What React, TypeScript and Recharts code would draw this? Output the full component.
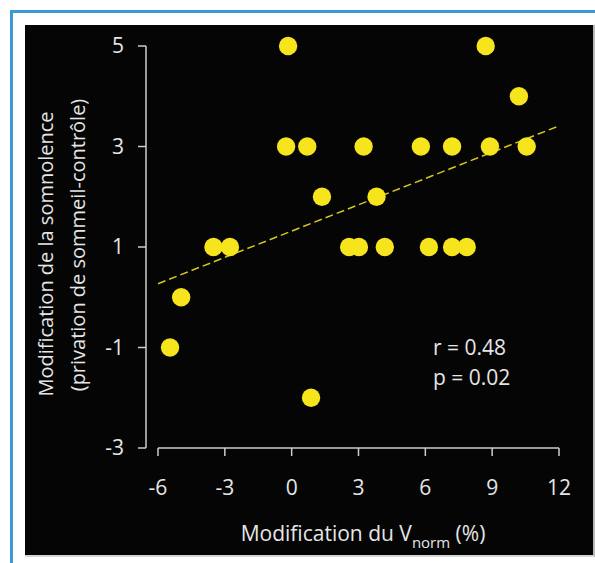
import { ScatterChart, Scatter, XAxis, YAxis, ReferenceLine, Customized } from "recharts";

// Sleepiness change vs Vnorm change, with regression line.

const xValues = [-5.46, -4.96, -3.51, -2.77, -0.16, -0.25, 0.7, 0.87, 1.36, 2.58, 3.02, 3.23, 3.81, 4.18, 5.8, 6.16, 7.2, 7.2, 7.86, 8.71, 8.9, 10.2, 10.55];
const yValues = [-1, 0, 1, 1, 5, 3, 3, -2, 2, 1, 1, 3, 2, 1, 3, 1, 3, 1, 1, 5, 3, 4, 3];

const xTicks = [-6, -3, 0, 3, 6, 9, 12];
const yTicks = [-3, -1, 1, 3, 5];

// regression line endpoints (x, y)
const fitStart = [-6, 0.27];
const fitEnd = [12, 3.41];

const statLines = ["r = 0.48", "p = 0.02"];

const points = xValues.map((x, i) => ({ x, y: yValues[i] }));

const BLUE = "#3b9ad6";
const YELLOW = "#f6e41c";
const TEXT = "#e6e6e6";
const AXIS = "#cdcdcd";
const FONT = "'Open Sans', sans-serif";

const Dot = (props: any) => <circle cx={props.cx} cy={props.cy} r={9.2} fill={YELLOW} />;

const YLabel = () => (
  <g fill={TEXT} fontFamily={FONT} fontSize={20}>
    <text x={28} y={229} textAnchor="middle" transform="rotate(-90 28 229)">
      Modification de la somnolence
    </text>
    <text x={60} y={220} textAnchor="middle" transform="rotate(-90 60 220)">
      (privation de sommeil-contrôle)
    </text>
  </g>
);

const XLabel = () => (
  <text x={338} y={516} textAnchor="middle" fill={TEXT} fontFamily={FONT} fontSize={21}>
    Modification du V
    <tspan fontSize={15} dy={7}>norm</tspan>
    <tspan dy={-7}> (%)</tspan>
  </text>
);

const Stats = () => (
  <g fill={TEXT} fontFamily={FONT} fontSize={21}>
    {statLines.map((s, i) => (
      <text key={s} x={408} y={330 + i * 30}>
        {s}
      </text>
    ))}
  </g>
);

export default function App() {
  return (
    <div style={{ position: "absolute", left: 0, top: 0, width: 595, height: 563, background: "#fff", overflow: "hidden" }}>
      <div style={{ position: "absolute", left: 10, top: 10, width: 3, height: 553, background: BLUE }} />
      <div style={{ position: "absolute", left: 10, top: 10, width: 585, height: 3, background: BLUE }} />
      <div
        style={{
          position: "absolute",
          left: 25,
          top: 25,
          width: 568,
          height: 530,
          background: "#050505",
          borderRight: "2px solid #b8b8b8",
          borderBottom: "2px solid #d6d6d6",
        }}
      >
        <ScatterChart width={568} height={530} margin={{ top: 21, right: 34, bottom: 0, left: 0 }}>
          <XAxis
            type="number"
            dataKey="x"
            domain={[-6, 12]}
            ticks={xTicks}
            padding={{ left: 12, right: 0 }}
            axisLine={false}
            tickLine={{ stroke: AXIS, strokeWidth: 1.5 }}
            tickSize={8}
            tickMargin={24}
            height={107}
            tick={{ fill: TEXT, fontSize: 21, fontFamily: FONT }}
            label={<XLabel />}
          />
          <YAxis
            type="number"
            dataKey="y"
            domain={[-3, 5]}
            ticks={yTicks}
            width={121}
            axisLine={{ stroke: AXIS, strokeWidth: 1.5 }}
            tickLine={{ stroke: AXIS, strokeWidth: 1.5 }}
            tickSize={8}
            tickMargin={14}
            tick={{ fill: TEXT, fontSize: 21, fontFamily: FONT }}
            label={<YLabel />}
          />
          <ReferenceLine
            segment={[
              { x: -6, y: -3 },
              { x: 12, y: -3 },
            ]}
            stroke={AXIS}
            strokeWidth={1.5}
            ifOverflow="visible"
          />
          <ReferenceLine
            segment={[
              { x: fitStart[0], y: fitStart[1] },
              { x: fitEnd[0], y: fitEnd[1] },
            ]}
            stroke="#d8c71c"
            strokeWidth={1.5}
            strokeDasharray="8 4"
            ifOverflow="visible"
          />
          <Scatter data={points} shape={Dot} isAnimationActive={false} />
          <Customized component={Stats} />
        </ScatterChart>
      </div>
    </div>
  );
}
